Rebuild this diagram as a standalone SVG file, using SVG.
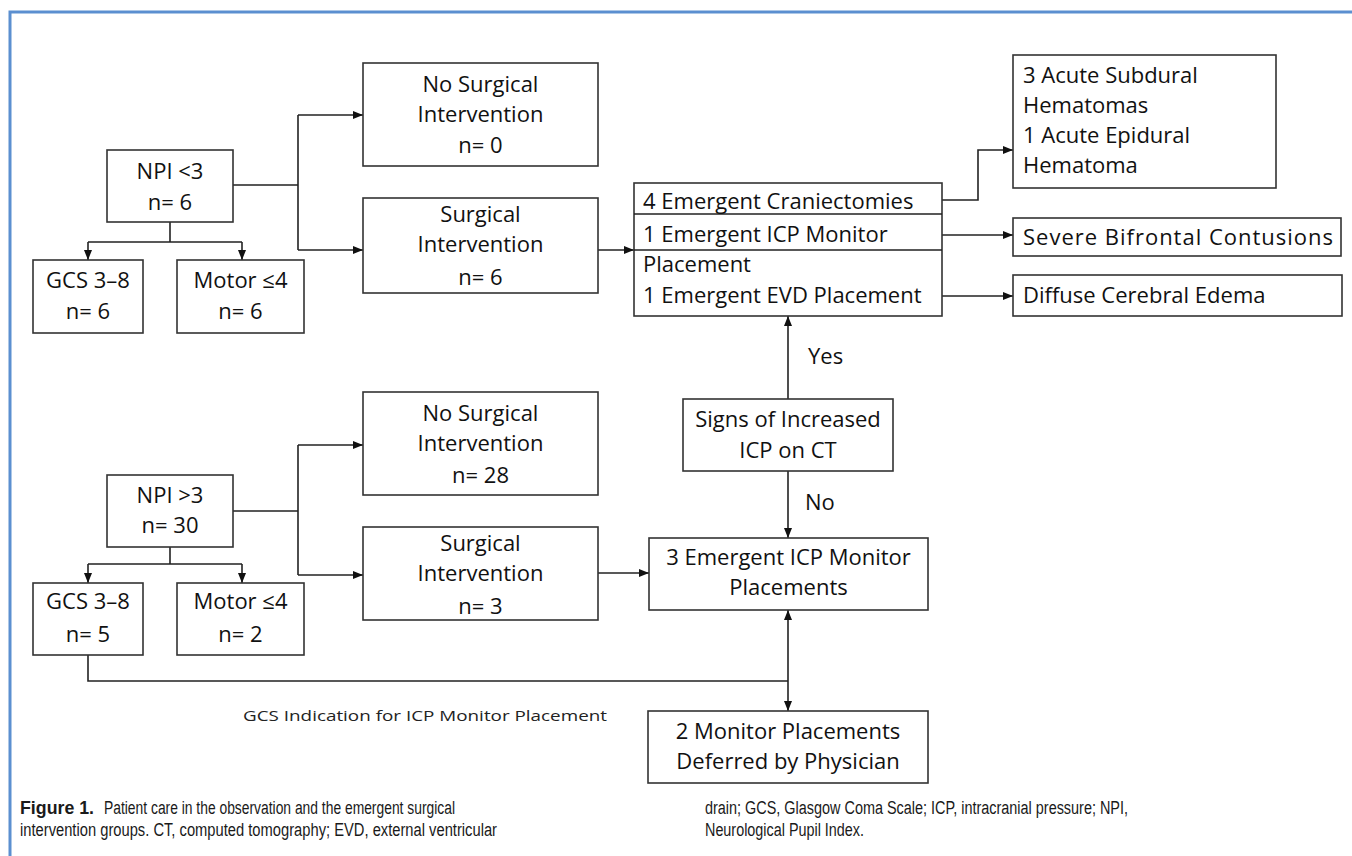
<svg xmlns="http://www.w3.org/2000/svg" width="1352" height="856" viewBox="0 0 1352 856">
<defs>
<marker id="ah" markerUnits="userSpaceOnUse" markerWidth="10" markerHeight="10" viewBox="0 0 10 10" refX="10" refY="5" orient="auto">
<path d="M0,1 L10,5 L0,9 Z" fill="#111"/>
</marker>
<style>
.box{fill:#fff;stroke:#333;stroke-width:1.6}
.t{font-family:"Open Sans","Liberation Sans",sans-serif;font-size:22px;fill:#111}
.c{text-anchor:middle}
.ln{fill:none;stroke:#222;stroke-width:1.6}
.cap{font-family:"Liberation Sans",Arial,sans-serif;font-size:18px;fill:#1a1a1a}
</style>
</defs>
<rect width="1352" height="856" fill="#fff"/>
<path d="M10,856 V12 H1352" fill="none" stroke="#5b8fd0" stroke-width="3"/>

<g id="connectors">
<path class="ln" d="M233,185 H298 M298,115 V250"/>
<path class="ln" d="M298,115 H363" marker-end="url(#ah)"/>
<path class="ln" d="M298,250 H363" marker-end="url(#ah)"/>
<path class="ln" d="M170,222 V242 M88,242 H242"/>
<path class="ln" d="M88,242 V260" marker-end="url(#ah)"/>
<path class="ln" d="M242,242 V260" marker-end="url(#ah)"/>
<path class="ln" d="M598,250 H634" marker-end="url(#ah)"/>
<path class="ln" d="M942,200 H978 V150 H1013" marker-end="url(#ah)"/>
<path class="ln" d="M942,235 H1013" marker-end="url(#ah)"/>
<path class="ln" d="M942,296 H1013" marker-end="url(#ah)"/>
<path class="ln" d="M788,399 V316" marker-end="url(#ah)"/>
<path class="ln" d="M788,471 V538" marker-end="url(#ah)"/>
<path class="ln" d="M233,511 H298 M298,445 V575"/>
<path class="ln" d="M298,445 H363" marker-end="url(#ah)"/>
<path class="ln" d="M298,575 H363" marker-end="url(#ah)"/>
<path class="ln" d="M170,547 V564 M88,564 H242"/>
<path class="ln" d="M88,564 V583" marker-end="url(#ah)"/>
<path class="ln" d="M242,564 V583" marker-end="url(#ah)"/>
<path class="ln" d="M598,573 H649" marker-end="url(#ah)"/>
<path class="ln" d="M88,655 V681 H788"/>
<path class="ln" d="M788,681 V610" marker-end="url(#ah)"/>
<path class="ln" d="M788,681 V711" marker-end="url(#ah)"/>
<text class="t" x="808" y="364">Yes</text>
<text class="t" x="805" y="510">No</text>
<text x="243" y="721" font-family="'Open Sans','Liberation Sans',sans-serif" font-size="15" fill="#222" textLength="364" lengthAdjust="spacingAndGlyphs">GCS Indication for ICP Monitor Placement</text>
</g>

<g id="npi-lt3">
<rect class="box" x="107" y="150" width="126" height="72"/>
<text class="t c" x="170" y="179">NPI &lt;3</text>
<text class="t c" x="170" y="210">n= 6</text>
</g>
<g id="gcs-top">
<rect class="box" x="33" y="260" width="110" height="73"/>
<text class="t c" x="88" y="288">GCS 3–8</text>
<text class="t c" x="88" y="319">n= 6</text>
</g>
<g id="motor-top">
<rect class="box" x="177" y="260" width="127" height="73"/>
<text class="t c" x="240.5" y="288">Motor ≤4</text>
<text class="t c" x="240.5" y="319">n= 6</text>
</g>
<g id="nosurg-top">
<rect class="box" x="363" y="63" width="235" height="103"/>
<text class="t c" x="480.5" y="92">No Surgical</text>
<text class="t c" x="480.5" y="122">Intervention</text>
<text class="t c" x="480.5" y="153">n= 0</text>
</g>
<g id="surg-top">
<rect class="box" x="363" y="198" width="235" height="95"/>
<text class="t c" x="480.5" y="222">Surgical</text>
<text class="t c" x="480.5" y="252">Intervention</text>
<text class="t c" x="480.5" y="285">n= 6</text>
</g>
<g id="procedures">
<rect class="box" x="634" y="183" width="308" height="133"/>
<path class="ln" d="M634,214 H942 M634,250 H942"/>
<text class="t" x="643" y="209">4 Emergent Craniectomies</text>
<text class="t" x="643" y="242">1 Emergent ICP Monitor</text>
<text class="t" x="643" y="272">Placement</text>
<text class="t" x="643" y="303">1 Emergent EVD Placement</text>
</g>
<g id="hematomas">
<rect class="box" x="1013" y="55" width="263" height="133"/>
<text class="t" x="1023" y="83">3 Acute Subdural</text>
<text class="t" x="1023" y="113">Hematomas</text>
<text class="t" x="1023" y="143">1 Acute Epidural</text>
<text class="t" x="1023" y="173">Hematoma</text>
</g>
<g id="contusions">
<rect class="box" x="1013" y="218" width="328" height="38"/>
<text class="t" x="1023" y="245" textLength="310" lengthAdjust="spacing">Severe Bifrontal Contusions</text>
</g>
<g id="edema">
<rect class="box" x="1013" y="275" width="329" height="41"/>
<text class="t" x="1023" y="303">Diffuse Cerebral Edema</text>
</g>
<g id="signs">
<rect class="box" x="683" y="399" width="210" height="72"/>
<text class="t c" x="788" y="427">Signs of Increased</text>
<text class="t c" x="788" y="458">ICP on CT</text>
</g>
<g id="npi-gt3">
<rect class="box" x="107" y="475" width="126" height="72"/>
<text class="t c" x="170" y="503">NPI &gt;3</text>
<text class="t c" x="170" y="533">n= 30</text>
</g>
<g id="gcs-bottom">
<rect class="box" x="33" y="583" width="110" height="72"/>
<text class="t c" x="88" y="609">GCS 3–8</text>
<text class="t c" x="88" y="642">n= 5</text>
</g>
<g id="motor-bottom">
<rect class="box" x="177" y="583" width="127" height="72"/>
<text class="t c" x="240.5" y="609">Motor ≤4</text>
<text class="t c" x="240.5" y="642">n= 2</text>
</g>
<g id="nosurg-bottom">
<rect class="box" x="363" y="392" width="235" height="103"/>
<text class="t c" x="480.5" y="421">No Surgical</text>
<text class="t c" x="480.5" y="451">Intervention</text>
<text class="t c" x="480.5" y="483">n= 28</text>
</g>
<g id="surg-bottom">
<rect class="box" x="363" y="527" width="235" height="93"/>
<text class="t c" x="480.5" y="551">Surgical</text>
<text class="t c" x="480.5" y="581">Intervention</text>
<text class="t c" x="480.5" y="614">n= 3</text>
</g>
<g id="icp-monitor">
<rect class="box" x="649" y="538" width="279" height="72"/>
<text class="t c" x="788.5" y="565">3 Emergent ICP Monitor</text>
<text class="t c" x="788.5" y="595">Placements</text>
</g>
<g id="deferred">
<rect class="box" x="648" y="711" width="280" height="72"/>
<text class="t c" x="788" y="739">2 Monitor Placements</text>
<text class="t c" x="788" y="769">Deferred by Physician</text>
</g>

<g id="caption">
<text class="cap" x="20" y="814" font-weight="bold" textLength="74" lengthAdjust="spacingAndGlyphs">Figure 1.</text>
<text class="cap" x="104" y="814" textLength="351" lengthAdjust="spacingAndGlyphs">Patient care in the observation and the emergent surgical</text>
<text class="cap" x="20" y="836" textLength="477" lengthAdjust="spacingAndGlyphs">intervention groups. CT, computed tomography; EVD, external ventricular</text>
<text class="cap" x="705" y="814" textLength="423" lengthAdjust="spacingAndGlyphs">drain; GCS, Glasgow Coma Scale; ICP, intracranial pressure; NPI,</text>
<text class="cap" x="705" y="836" textLength="159" lengthAdjust="spacingAndGlyphs">Neurological Pupil Index.</text>
</g>
</svg>
